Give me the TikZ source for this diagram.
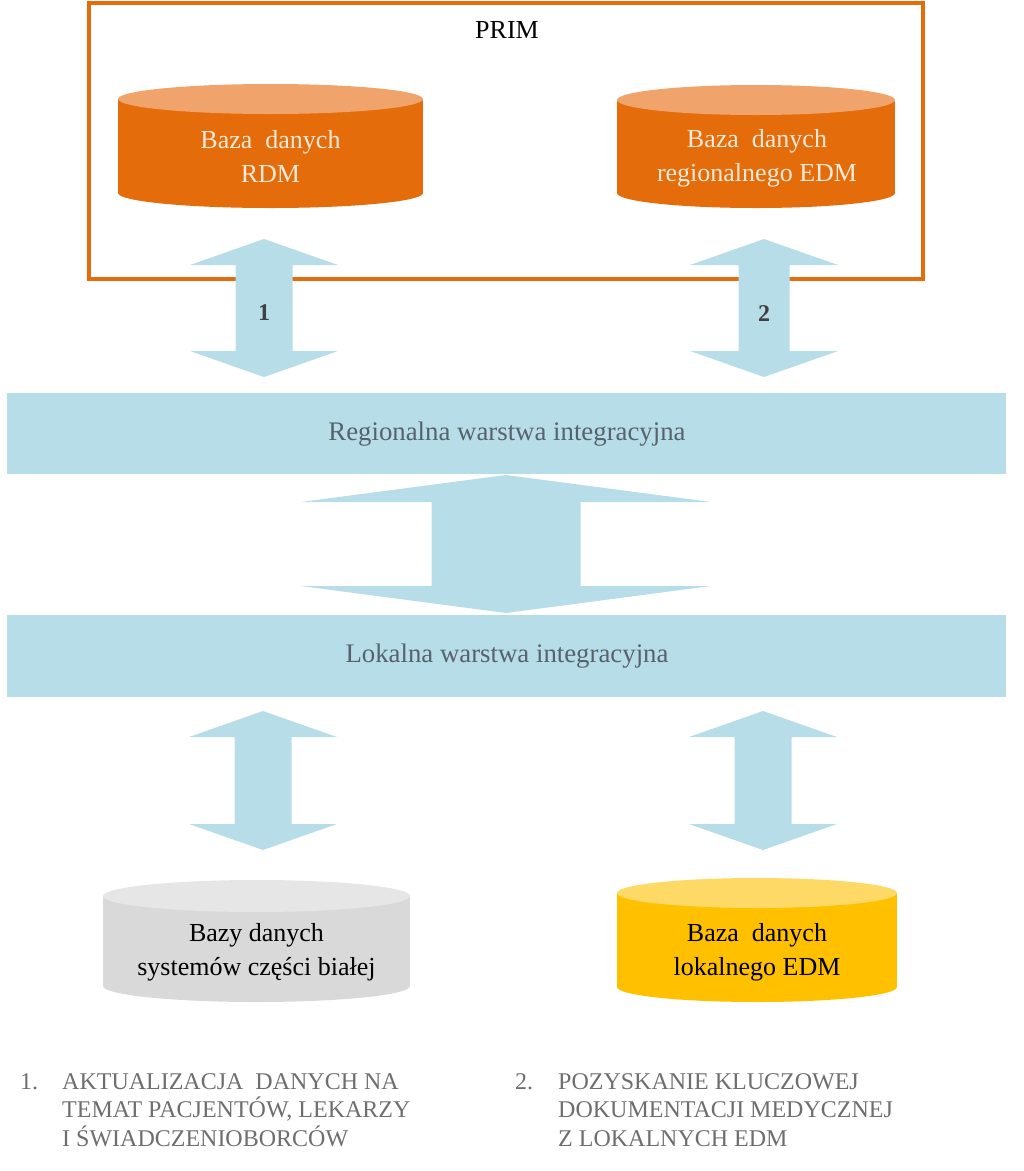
\documentclass[tikz,border=0pt]{standalone}
\usepackage{fontspec}
\setmainfont{Liberation Serif}
\definecolor{frameorange}{HTML}{E46C0A}
\definecolor{cylorange}{HTML}{E46C0A}
\definecolor{cyloragetop}{HTML}{F0A46C}
\definecolor{arrowblue}{HTML}{B7DDE8}
\definecolor{cylgrey}{HTML}{D9D9D9}
\definecolor{cylgreytop}{HTML}{E6E6E6}
\definecolor{cylyellow}{HTML}{FFC000}
\definecolor{cylyellowtop}{HTML}{FFD966}
\definecolor{creamtext}{HTML}{FDEADA}
\definecolor{bandtext}{HTML}{56636B}
\definecolor{listtext}{HTML}{6E6E6E}
\definecolor{numtext}{HTML}{404040}
\newcommand{\mycyl}[7]{%
  \fill[#6] ({#1-#2},#3) rectangle ({#1+#2},#4);
  \fill[#6] (#1,#4) ellipse[x radius=#2, y radius=#5];
  \fill[#7] (#1,#3) ellipse[x radius=#2, y radius=#5];}
\newcommand{\mydblarrow}[6]{%
  \fill[arrowblue] (#1,#2) -- ({#1+#4},{#2+#6}) -- ({#1+#5},{#2+#6}) -- ({#1+#5},{#3-#6})
   -- ({#1+#4},{#3-#6}) -- (#1,#3) -- ({#1-#4},{#3-#6}) -- ({#1-#5},{#3-#6})
   -- ({#1-#5},{#2+#6}) -- ({#1-#4},{#2+#6}) -- cycle;}
\tikzset{
  cyltext/.style={align=center, inner sep=0pt, font=\fontsize{26}{34}\selectfont},
  bandtext/.style={inner sep=0pt, text=bandtext, font=\fontsize{26.8}{32}\selectfont},
  numlabel/.style={inner sep=0pt, text=numtext, font=\fontsize{24}{28}\selectfont\bfseries},
  listitem/.style={inner sep=0pt, text=listtext, align=left, anchor=north west, font=\fontsize{24}{28.5}\selectfont},
  band/.style={fill=arrowblue, draw=none}
}
\begin{document}
\begin{tikzpicture}[x=1pt,y=-1pt]
\useasboundingbox (0,0) rectangle (1024,1171);
% PRIM frame
\draw[frameorange, line width=4pt] (89,3) rectangle (923,279);
\node[inner sep=0pt, font=\fontsize{26}{30}\selectfont] (prim) at (507,30) {PRIM};
% top cylinders
\mycyl{270.5}{152.5}{99}{193}{15}{cylorange}{cyloragetop}
\node[cyltext, text=creamtext] (rdm) at (270.5,156) {Baza~~danych\\RDM};
\mycyl{756}{139}{100}{193}{15}{cylorange}{cyloragetop}
\node[cyltext, text=creamtext] (redm) at (757,158) {Baza~~danych\\regionalnego EDM};
% arrows 1 and 2
\mydblarrow{264}{239}{377}{74}{28.5}{26}
\node[numlabel] (n1) at (264,313) {1};
\mydblarrow{764}{239}{377}{74}{25.5}{26}
\node[numlabel] (n2) at (764,314) {2};
% bands
\fill[band] (7,393) rectangle (1006,474);
\node[bandtext] (reg) at (507,434) {Regionalna warstwa integracyjna};
\mydblarrow{506}{475}{613}{205}{74.5}{27}
\fill[band] (7,615) rectangle (1006,697);
\node[bandtext] (lok) at (507,656) {Lokalna warstwa integracyjna};
% bottom arrows
\mydblarrow{263}{711}{850}{74}{28.5}{26}
\mydblarrow{763}{711}{850}{74}{28.5}{26}
% bottom cylinders
\mycyl{256.5}{153.5}{896}{986}{16}{cylgrey}{cylgreytop}
\node[cyltext] (biala) at (256.5,952) {Bazy danych\\systemów części białej};
\mycyl{757}{140}{893}{987}{15}{cylyellow}{cylyellowtop}
\node[cyltext] (ledm) at (757,952) {Baza~~danych\\lokalnego EDM};
% list
\node[listitem] (l1n) at (20,1073) {1.};
\node[listitem] (l1) at (62,1073) {AKTUALIZACJA~~DANYCH NA\\TEMAT PACJENTÓW, LEKARZY\\I ŚWIADCZENIOBORCÓW};
\node[listitem] (l2n) at (515,1073) {2.};
\node[listitem] (l2) at (558,1073) {POZYSKANIE KLUCZOWEJ\\DOKUMENTACJI MEDYCZNEJ\\Z LOKALNYCH EDM};
\end{tikzpicture}
\end{document}
